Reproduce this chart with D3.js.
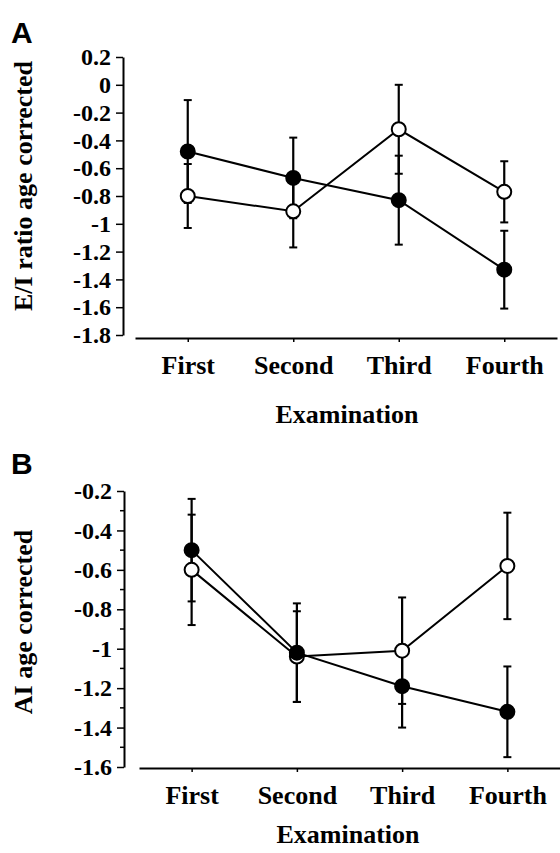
<!DOCTYPE html>
<html>
<head>
<meta charset="utf-8">
<script src="https://cdn.jsdelivr.net/npm/d3@7"></script>
<style>
  body { margin: 0; background: #fff; }
  svg { display: block; }
</style>
</head>
<body>
<svg id="chart" width="560" height="853"></svg>
<script>
// examinations on the x axis
const categories = ["First", "Second", "Third", "Fourth"];

// panel A: E/I ratio (age corrected), mean and error
const eiFilled = [-0.48, -0.67, -0.83, -1.33];
const eiFilledErr = [0.37, 0.29, 0.32, 0.28];
const eiOpen = [-0.80, -0.91, -0.32, -0.77];
const eiOpenErr = [0.23, 0.26, 0.32, 0.22];
const eiTicks = [0.2, 0, -0.2, -0.4, -0.6, -0.8, -1, -1.2, -1.4, -1.6, -1.8];

// panel B: AI (age corrected)
const aiFilled = [-0.50, -1.02, -1.19, -1.32];
const aiFilledErr = [0.26, 0.25, 0.21, 0.23];
const aiOpen = [-0.60, -1.04, -1.01, -0.58];
const aiOpenErr = [0.28, 0.23, 0.27, 0.27];
const aiTicks = [-0.2, -0.4, -0.6, -0.8, -1, -1.2, -1.4, -1.6];
const aiMinorTicks = [-0.3, -0.5, -0.7, -0.9, -1.1, -1.3, -1.5];

const serif = "'Liberation Serif', 'Times New Roman', serif";
const sans = "'Liberation Sans', Arial, sans-serif";

let svg = d3.select("#chart");

function fmt(v) {
    return String(+v.toFixed(1));
}

function drawPanel(p) {
    let g = svg.append("g");

    let y = d3.scaleLinear().domain(p.yDomain).range(p.yRange);
    let x = d3.scalePoint().domain(categories).range(p.xRange).padding(0.5);

    // y axis
    let yAxis = d3.axisLeft(y).tickValues(p.ticks).tickFormat(fmt)
        .tickSize(7).tickSizeOuter(0).tickPadding(5);
    let ya = g.append("g").attr("transform", "translate(" + p.yAxisX + ",0)").call(yAxis);
    if (p.minor) {
        ya.selectAll(".minor").data(p.minor).enter().append("line")
            .attr("class", "minor")
            .attr("x1", -4).attr("x2", 0)
            .attr("y1", d => y(d)).attr("y2", d => y(d))
            .attr("stroke", "#000").attr("stroke-width", 1.5);
    }

    // x axis
    let xAxis = d3.axisBottom(x).tickSize(4).tickSizeOuter(0).tickPadding(14);
    let xa = g.append("g").attr("transform", "translate(0," + p.xAxisY + ")").call(xAxis);

    [ya, xa].forEach(a => {
        a.select(".domain").attr("stroke", "#000").attr("stroke-width", 2);
        a.selectAll(".tick line").attr("stroke", "#000").attr("stroke-width", 1.5);
    });
    ya.selectAll(".tick text")
        .attr("font-family", serif).attr("font-weight", "bold")
        .attr("font-size", 24).attr("fill", "#000");
    xa.selectAll(".tick text")
        .attr("font-family", serif).attr("font-weight", "bold")
        .attr("font-size", 26).attr("fill", "#000");

    // axis titles
    g.append("text")
        .attr("transform", "translate(" + p.yTitleX + "," + p.yTitleY + ") rotate(-90)")
        .attr("text-anchor", "middle")
        .attr("font-family", serif).attr("font-weight", "bold").attr("font-size", 26)
        .text(p.yTitle);
    g.append("text")
        .attr("x", p.xTitleX).attr("y", p.xTitleY)
        .attr("text-anchor", "middle")
        .attr("font-family", serif).attr("font-weight", "bold").attr("font-size", 26)
        .text("Examination");

    // panel letter
    g.append("text")
        .attr("x", 11).attr("y", p.letterY)
        .attr("font-family", sans).attr("font-weight", "bold").attr("font-size", 30)
        .text(p.letter);

    let series = [
        { values: p.open, err: p.openErr, fill: "#fff" },
        { values: p.filled, err: p.filledErr, fill: "#000" }
    ];

    let line = d3.line().x((d, i) => x(categories[i])).y(d => y(d));

    // connecting lines
    series.forEach(s => {
        g.append("path").datum(s.values)
            .attr("d", line)
            .attr("fill", "none").attr("stroke", "#000").attr("stroke-width", 2);
    });

    // error bars
    series.forEach(s => {
        let eb = g.append("g");
        s.values.forEach((v, i) => {
            let cx = x(categories[i]);
            let top = y(v + s.err[i]);
            let bot = y(v - s.err[i]);
            eb.append("line").attr("x1", cx).attr("x2", cx).attr("y1", top).attr("y2", bot)
                .attr("stroke", "#000").attr("stroke-width", 2.2);
            [top, bot].forEach(yy => {
                eb.append("line").attr("x1", cx - 4).attr("x2", cx + 4).attr("y1", yy).attr("y2", yy)
                    .attr("stroke", "#000").attr("stroke-width", 2);
            });
        });
    });

    // markers
    series.forEach(s => {
        g.append("g").selectAll("circle").data(s.values).enter().append("circle")
            .attr("cx", (d, i) => x(categories[i]))
            .attr("cy", d => y(d))
            .attr("r", 7)
            .attr("fill", s.fill).attr("stroke", "#000").attr("stroke-width", 2);
    });
}

drawPanel({
    letter: "A", letterY: 43,
    yDomain: [0.2, -1.8], yRange: [57, 335], ticks: eiTicks,
    yAxisX: 123, xRange: [135, 557], xAxisY: 338,
    yTitle: "E/I ratio age corrected", yTitleX: 32, yTitleY: 186,
    xTitleX: 347, xTitleY: 423,
    filled: eiFilled, filledErr: eiFilledErr, open: eiOpen, openErr: eiOpenErr
});

drawPanel({
    letter: "B", letterY: 474,
    yDomain: [-0.2, -1.6], yRange: [491, 767], ticks: aiTicks, minor: aiMinorTicks,
    yAxisX: 124, xRange: [139, 560], xAxisY: 768,
    yTitle: "AI age corrected", yTitleX: 32, yTitleY: 622,
    xTitleX: 348, xTitleY: 843,
    filled: aiFilled, filledErr: aiFilledErr, open: aiOpen, openErr: aiOpenErr
});
</script>
</body>
</html>
